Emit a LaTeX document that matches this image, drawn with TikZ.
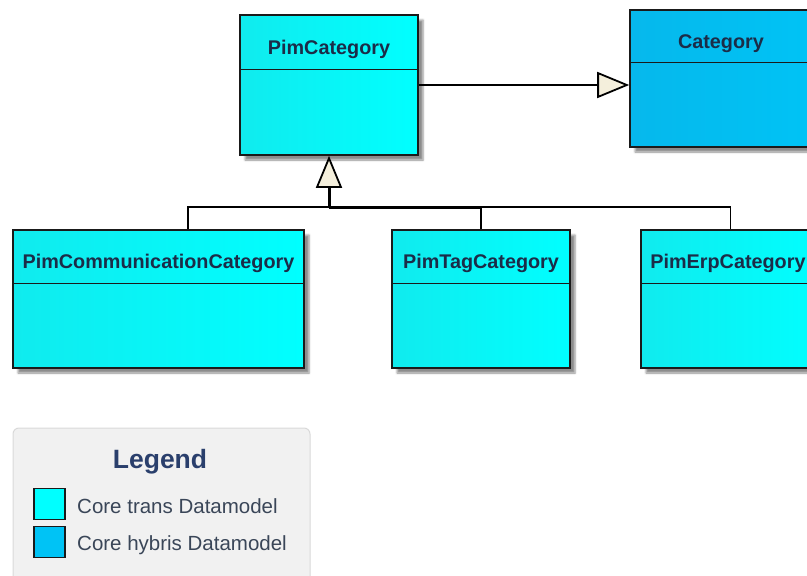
\documentclass[tikz,border=0pt]{standalone}
\usepackage{fontspec}
\setmainfont{Liberation Sans}
\usetikzlibrary{arrows.meta,shadows.blur}

\definecolor{transcyan}{HTML}{00FFFF}
\definecolor{transcyanL}{HTML}{10EBEE}
\definecolor{hybblue}{HTML}{00C3F5}
\definecolor{hybblueL}{HTML}{06B8EC}
\definecolor{boxline}{HTML}{1A1A1A}
\definecolor{tricol}{HTML}{F4EFDC}
\definecolor{titletext}{HTML}{1B2C48}
\definecolor{legtitlecol}{HTML}{2A3F6C}
\definecolor{legtextcol}{HTML}{3A4658}
\definecolor{legfill}{HTML}{F1F1F1}
\definecolor{legline}{HTML}{D9D9D9}

\begin{document}
\begin{tikzpicture}[x=1pt,y=-1pt,
  classbox/.style={draw=boxline, line width=1.6pt, inner sep=0pt,
    blur shadow={shadow xshift=5pt, shadow yshift=-5pt,
      shadow blur radius=2pt, shadow opacity=45}},
  transbox/.style={classbox, left color=transcyanL, right color=transcyan},
  hybbox/.style={classbox, left color=hybblueL, right color=hybblue},
  ctitle/.style={font=\fontsize{19.8}{22}\selectfont\bfseries, text=titletext, inner sep=0pt},
  divline/.style={draw=boxline, line width=1.4pt},
  conn/.style={draw=black, line width=1.3pt},
  connthick/.style={draw=black, line width=3pt},
  gentip/.style={-{Triangle[length=32pt, width=26pt, fill=tricol, line width=1.8pt]}},
  legendbox/.style={draw=legline, fill=legfill, line width=1pt, rounded corners=6pt,
    inner sep=0pt, minimum width=297pt, minimum height=180pt},
  legtitle/.style={font=\fontsize{26.5}{30}\selectfont\bfseries, text=legtitlecol, inner sep=0pt},
  legtext/.style={font=\fontsize{20.5}{24}\selectfont, text=legtextcol, inner sep=0pt, anchor=west},
  swatch/.style={draw=boxline, line width=1.4pt, minimum size=31pt, inner sep=0pt}
]
\useasboundingbox (0,0) rectangle (807,576);
\clip (0,0) rectangle (807,576);

% class boxes
\node[transbox, minimum width=178pt, minimum height=140pt] (pim) at (329,85) {};
\node[hybbox, minimum width=182pt, minimum height=137pt] (cat) at (721,78.5) {};
\node[transbox, minimum width=291pt, minimum height=138pt] (comm) at (158.5,299) {};
\node[transbox, minimum width=178pt, minimum height=138pt] (tag) at (481,299) {};
\node[transbox, minimum width=179pt, minimum height=138pt] (erp) at (730.5,299) {};

% compartment dividers
\draw[divline] ([yshift=-55pt]pim.north west) -- ([yshift=-55pt]pim.north east);
\draw[divline] ([yshift=-53pt]cat.north west) -- ([yshift=-53pt]cat.north east);
\draw[divline] ([yshift=-54pt]comm.north west) -- ([yshift=-54pt]comm.north east);
\draw[divline] ([yshift=-54pt]tag.north west) -- ([yshift=-54pt]tag.north east);
\draw[divline] ([yshift=-54pt]erp.north west) -- ([yshift=-54pt]erp.north east);

% class names
\node[ctitle] (pimT) at ([yshift=-35pt]pim.north) {PimCategory};
\node[ctitle] (catT) at ([yshift=-34pt]cat.north) {Category};
\node[ctitle] (commT) at ([yshift=-34pt]comm.north) {PimCommunicationCategory};
\node[ctitle] (tagT) at ([yshift=-34pt]tag.north) {PimTagCategory};
\node[ctitle, anchor=west] (erpT) at ([xshift=10pt,yshift=-34pt]erp.north west) {PimErpCategory};

% generalization PimCategory -> Category
\draw[conn, gentip] (pim.east) -- (pim.east -| cat.west);

% generalization tree of the subclasses
\coordinate (j) at (329,207);
\draw[conn] ([xshift=29.5pt]comm.north) |- (j);
\draw[conn] (erp.north) |- (j);
\draw[conn] (tag.north) -- (tag.north |- j);
\draw[connthick] (tag.north |- j) -- (j);
\draw[connthick, gentip] (j) -- (pim.south);

% legend
\node[legendbox] (leg) at (161.5,518) {};
\node[legtitle] (legT) at (160,462) {Legend};
\node[swatch, fill=transcyan] (sw1) at (49.5,504) {};
\node[swatch, fill=hybblue] (sw2) at (49.5,542) {};
\node[legtext] (lt1) at (77,506) {Core trans Datamodel};
\node[legtext] (lt2) at (77,545) {Core hybris Datamodel};
\end{tikzpicture}
\end{document}
